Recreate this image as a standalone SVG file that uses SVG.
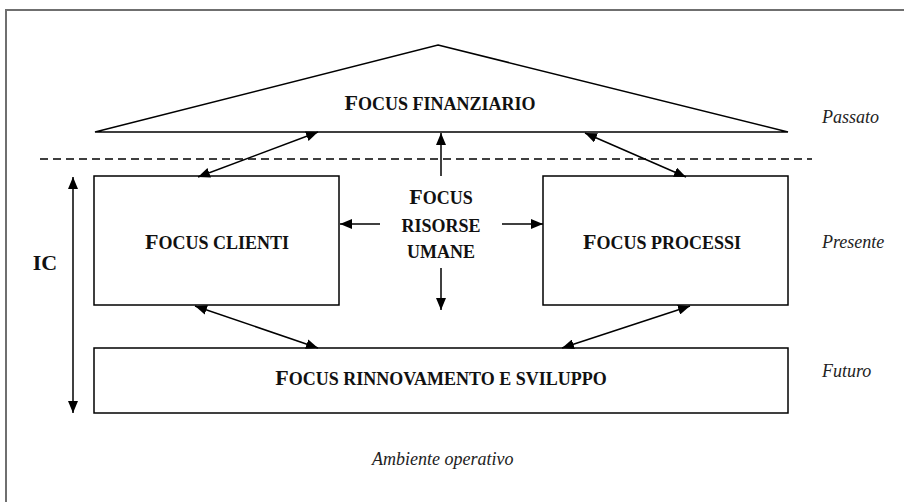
<svg xmlns="http://www.w3.org/2000/svg" width="904" height="502" viewBox="0 0 904 502">
  <defs>
    <marker id="head" viewBox="0 0 12 10" refX="12" refY="5" markerWidth="12" markerHeight="10" markerUnits="userSpaceOnUse" orient="auto-start-reverse">
      <path d="M0,0 L12,5 L0,10 z" fill="#000"/>
    </marker>
    <style>
      .frame { fill: none; stroke: #6f6f6f; stroke-width: 2; }
      .shape { fill: #fff; stroke: #000; stroke-width: 1.5; }
      .link { fill: none; stroke: #000; stroke-width: 1.5; }
      .one { marker-end: url(#head); }
      .two { marker-start: url(#head); marker-end: url(#head); }
      .dash { fill: none; stroke: #000; stroke-width: 1.3; stroke-dasharray: 8 5; }
      .title { font-family: "Liberation Serif", "Times New Roman", serif; font-weight: bold; font-size: 18px; fill: #111; text-anchor: middle; }
      .cap { font-size: 22px; }
      .era { font-family: "Liberation Serif", "Times New Roman", serif; font-style: italic; font-size: 18px; fill: #222; }
    </style>
  </defs>

  <!-- page frame (continues past the right and bottom edges) -->
  <rect class="frame" x="6" y="10" width="920" height="520"/>

  <!-- nodes -->
  <g id="finanziario">
    <polygon class="shape" points="438,45 788,132 95,132"/>
    <text class="title" x="440" y="110"><tspan class="cap">F</tspan>OCUS FINANZIARIO</text>
  </g>

  <g id="clienti">
    <rect class="shape" x="94" y="176" width="245" height="129"/>
    <text class="title" x="217" y="249"><tspan class="cap">F</tspan>OCUS CLIENTI</text>
  </g>

  <g id="processi">
    <rect class="shape" x="543" y="176" width="245" height="129"/>
    <text class="title" x="662" y="249"><tspan class="cap">F</tspan>OCUS PROCESSI</text>
  </g>

  <g id="risorse-umane">
    <text class="title" x="441" y="204"><tspan class="cap">F</tspan>OCUS</text>
    <text class="title" x="441" y="232">RISORSE</text>
    <text class="title" x="441" y="258">UMANE</text>
  </g>

  <g id="rinnovamento">
    <rect class="shape" x="94" y="348" width="694" height="65"/>
    <text class="title" x="441" y="385"><tspan class="cap">F</tspan>OCUS RINNOVAMENTO E SVILUPPO</text>
  </g>

  <g id="ic">
    <text class="title" x="45" y="270"><tspan class="cap">IC</tspan></text>
  </g>

  <!-- time axis labels -->
  <g id="labels">
    <text class="era" x="822" y="123">Passato</text>
    <text class="era" x="822" y="248">Presente</text>
    <text class="era" x="822" y="377">Futuro</text>
    <text class="era" x="372" y="465">Ambiente operativo</text>
  </g>

  <!-- connectors -->
  <g id="connectors">
    <line class="dash" x1="40" y1="159" x2="812" y2="159"/>
    <line class="link two" x1="198" y1="177" x2="318" y2="132"/>
    <line class="link two" x1="585" y1="133" x2="686" y2="177"/>
    <line class="link one" x1="441" y1="176" x2="441" y2="133"/>
    <line class="link one" x1="441" y1="268" x2="441" y2="310"/>
    <line class="link one" x1="380" y1="224" x2="340" y2="224"/>
    <line class="link one" x1="502" y1="224" x2="543" y2="224"/>
    <line class="link two" x1="195" y1="306" x2="318" y2="348"/>
    <line class="link two" x1="690" y1="306" x2="562" y2="348"/>
    <line class="link two" x1="73" y1="177" x2="73" y2="413"/>
  </g>
</svg>
